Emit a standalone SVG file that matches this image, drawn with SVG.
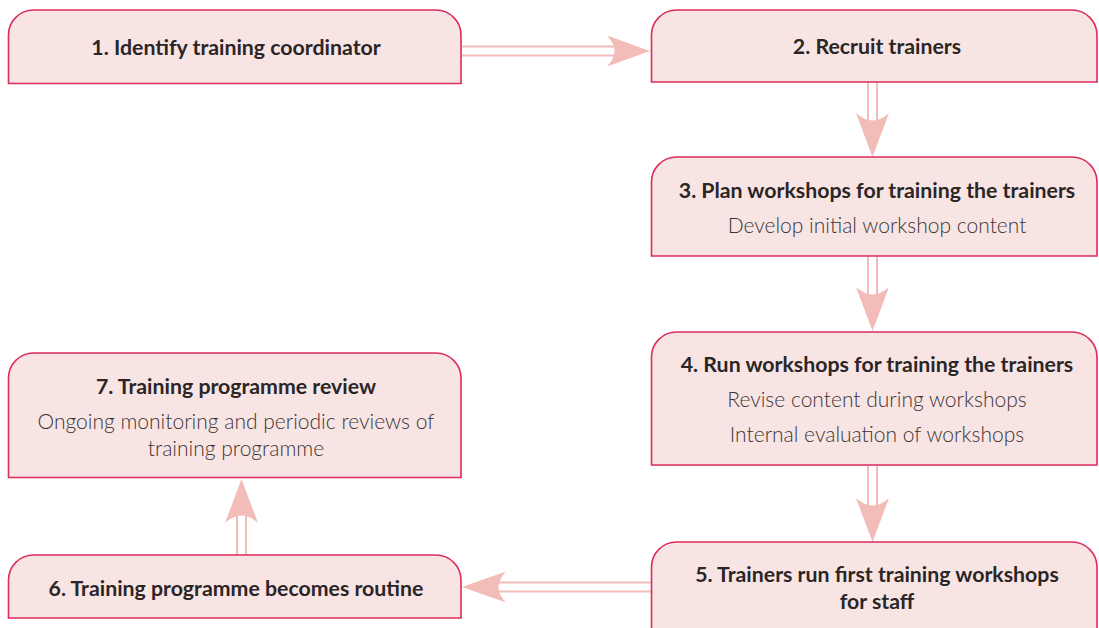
<svg xmlns="http://www.w3.org/2000/svg" width="1099" height="628" viewBox="0 0 1099 628">
  <style>
    .box { fill: #f9e4e4; stroke: #dc2b5c; stroke-width: 1.6; }
    .title { font-family: Lato, "Open Sans", sans-serif; font-weight: 700; font-size: 21.3px; fill: #2a2626; text-anchor: middle; }
    .sub { font-family: Lato, "Open Sans", sans-serif; font-weight: 300; font-size: 21px; fill: #3a3636; text-anchor: middle; }
    .shaft { stroke: #f2bcb8; stroke-width: 2; fill: none; }
    .head { fill: #f2bcb8; stroke: none; }
  </style>

  <!-- connectors: double-line shaft with a concave arrowhead -->
  <g id="connectors">
    <!-- 1 to 2 -->
    <g id="c1-2">
      <line class="shaft" x1="462" y1="46.5" x2="616" y2="46.5"/>
      <line class="shaft" x1="462" y1="55.5" x2="616" y2="55.5"/>
      <path class="head" d="M650,51 L607,35.5 Q622,51 607,66.5 Z"/>
    </g>
    <!-- 2 to 3 -->
    <g id="c2-3">
      <line class="shaft" x1="868" y1="82" x2="868" y2="122"/>
      <line class="shaft" x1="877" y1="82" x2="877" y2="122"/>
      <path class="head" d="M872.5,157 L856,113 Q872.5,128 889,113 Z"/>
    </g>
    <!-- 3 to 4 -->
    <g id="c3-4">
      <line class="shaft" x1="868" y1="256" x2="868" y2="296"/>
      <line class="shaft" x1="877" y1="256" x2="877" y2="296"/>
      <path class="head" d="M872.5,331 L856,287 Q872.5,302 889,287 Z"/>
    </g>
    <!-- 4 to 5 -->
    <g id="c4-5">
      <line class="shaft" x1="868" y1="465" x2="868" y2="507"/>
      <line class="shaft" x1="877" y1="465" x2="877" y2="507"/>
      <path class="head" d="M872.5,542 L856,498 Q872.5,513 889,498 Z"/>
    </g>
    <!-- 5 to 6 -->
    <g id="c5-6">
      <line class="shaft" x1="651" y1="582.5" x2="497" y2="582.5"/>
      <line class="shaft" x1="651" y1="591.5" x2="497" y2="591.5"/>
      <path class="head" d="M462,587 L506,571.5 Q491,587 506,602.5 Z"/>
    </g>
    <!-- 6 to 7 -->
    <g id="c6-7">
      <line class="shaft" x1="237" y1="555" x2="237" y2="514"/>
      <line class="shaft" x1="246" y1="555" x2="246" y2="514"/>
      <path class="head" d="M241.5,479 L225,523 Q241.5,508 258,523 Z"/>
    </g>
  </g>

  <!-- step boxes: rounded top corners, square bottom corners -->
  <g id="step1">
    <path class="box" d="M8.5,83.5 V35 A25,25 0 0 1 33.5,10 H436 A25,25 0 0 1 461,35 V83.5 Z"/>
    <text class="title" x="236" y="54.5">1. Identify training coordinator</text>
  </g>

  <g id="step2">
    <path class="box" d="M651.5,82 V35 A25,25 0 0 1 676.5,10 H1072 A25,25 0 0 1 1097,35 V82 Z"/>
    <text class="title" x="877" y="53.5">2. Recruit trainers</text>
  </g>

  <g id="step3">
    <path class="box" d="M651.5,256 V182 A25,25 0 0 1 676.5,157 H1072 A25,25 0 0 1 1097,182 V256 Z"/>
    <text class="title" x="877" y="198">3. Plan workshops for training the trainers</text>
    <text class="sub" x="877" y="232.5">Develop initial workshop content</text>
  </g>

  <g id="step4">
    <path class="box" d="M651.5,465 V357 A25,25 0 0 1 676.5,332 H1072 A25,25 0 0 1 1097,357 V465 Z"/>
    <text class="title" x="877" y="372">4. Run workshops for training the trainers</text>
    <text class="sub" x="877" y="407">Revise content during workshops</text>
    <text class="sub" x="877" y="442">Internal evaluation of workshops</text>
  </g>

  <g id="step5">
    <path class="box" d="M651.5,640 V567 A25,25 0 0 1 676.5,542 H1072 A25,25 0 0 1 1097,567 V640 Z"/>
    <text class="title" x="877" y="582">5. Trainers run first training workshops</text>
    <text class="title" x="877" y="609">for staff</text>
  </g>

  <g id="step6">
    <path class="box" d="M8.5,618 V580 A25,25 0 0 1 33.5,555 H436 A25,25 0 0 1 461,580 V618 Z"/>
    <text class="title" x="236" y="595.5">6. Training programme becomes routine</text>
  </g>

  <g id="step7">
    <path class="box" d="M8.5,477.5 V378 A25,25 0 0 1 33.5,353 H436 A25,25 0 0 1 461,378 V477.5 Z"/>
    <text class="title" x="236" y="394">7. Training programme review</text>
    <text class="sub" x="236" y="428.5">Ongoing monitoring and periodic reviews of</text>
    <text class="sub" x="236" y="455.5">training programme</text>
  </g>
</svg>
